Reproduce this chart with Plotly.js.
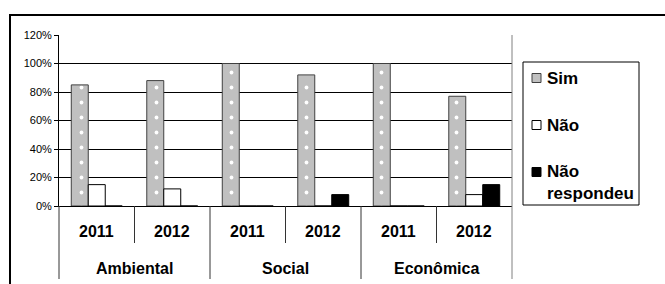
<!DOCTYPE html>
<html><head><meta charset="utf-8">
<script src="https://cdn.plot.ly/plotly-3.0.1.min.js"></script>
<style>
html,body{margin:0;padding:0;background:#fff;overflow:hidden}
#frame{position:absolute;left:9px;top:14px;width:700px;height:300px;border-top:2px solid #000;border-left:2px solid #000;box-sizing:border-box}
#chart{position:absolute;left:0;top:0;width:665px;height:284px}
</style></head><body><div id="frame"></div><div id="chart"></div>
<script>
// ---- data ----
const groups = ['Ambiental','Ambiental','Social','Social','Econômica','Econômica'];
const years = ['2011','2012','2011','2012','2011','2012'];
const groupLabels = ['Ambiental','Social','Econômica'];
const seriesNames = ['Sim','Não','Não<br>respondeu'];
const sim = [0.85, 0.88, 1.00, 0.92, 1.00, 0.77];
const nao = [0.15, 0.12, 0, 0, 0, 0.08];
const naoResp = [0, 0, 0, 0.08, 0, 0.15];
const yTickVals = [0, 0.2, 0.4, 0.6, 0.8, 1.0, 1.2];
const yTickText = ['0%','20%','40%','60%','80%','100%','120%'];

// ---- geometry helpers (plot area pixels) ----
const W = 665, H = 284, L = 59, R = 153, T = 35, B = 78;
const pw = W - L - R, ph = H - T - B;
const px2x = p => (p - L) / pw;
const px2y = p => (H - B - p) / ph;
const FONT = 'Liberation Sans, Arial, sans-serif';

const x = [groups, years];
const traces = [
  {type:'bar', name:seriesNames[0], x:x, y:sim,
   marker:{color:'#c0c0c0', line:{color:'#404040', width:1},
           pattern:{shape:'.', fgcolor:'#ffffff', bgcolor:'#c0c0c0', size:15, solidity:0.05}}},
  {type:'bar', name:seriesNames[1], x:x, y:nao,
   marker:{color:'#ffffff', line:{color:'#000000', width:1}}},
  {type:'bar', name:seriesNames[2], x:x, y:naoResp,
   marker:{color:'#000000', line:{color:'#000000', width:1}}}
];

const nCat = years.length;
const shapes = [];
const annotations = [];
// short separators between years
for (let i = 1; i < nCat; i += 2) {
  shapes.push({type:'line', xref:'paper', yref:'paper', x0:i/nCat, x1:i/nCat, y0:0, y1:px2y(243), line:{color:'#333', width:1}});
}
// long group dividers
for (let i = 0; i <= nCat; i += 2) {
  shapes.push({type:'line', xref:'paper', yref:'paper', x0:i/nCat, x1:i/nCat, y0:(i===nCat?1:0), y1:px2y(279), line:{color:(i===nCat?'#808080':'#333'), width:1}});
}
// category labels
years.forEach((yr, i) => {
  annotations.push({xref:'paper', yref:'paper', x:(i+0.5)/nCat, y:px2y(232), xanchor:'center', yanchor:'middle', showarrow:false,
    text:'<b>'+yr+'</b>', font:{family:FONT, size:16, color:'#000'}});
});
groupLabels.forEach((g, k) => {
  annotations.push({xref:'paper', yref:'paper', x:(2*k+1)/nCat, y:px2y(268), xanchor:'center', yanchor:'middle', showarrow:false,
    text:'<b>'+g+'</b>', font:{family:FONT, size:16, color:'#000'}});
});

// custom legend
shapes.push({type:'rect', xref:'paper', yref:'paper', x0:px2x(523), x1:px2x(639), y0:px2y(205), y1:px2y(62), line:{color:'#000', width:1}, fillcolor:'#fff', layer:'below'});
const legItems = [
  {cy:78, ty:78, fill:'#c0c0c0', line:'#404040'},
  {cy:125, ty:125, fill:'#ffffff', line:'#000000'},
  {cy:172, ty:182, fill:'#000000', line:'#000000'}
];
legItems.forEach((it, k) => {
  shapes.push({type:'rect', xref:'paper', yref:'paper', x0:px2x(532), x1:px2x(541), y0:px2y(it.cy+4.5), y1:px2y(it.cy-4.5), line:{color:it.line, width:1}, fillcolor:it.fill});
  annotations.push({xref:'paper', yref:'paper', x:px2x(545), y:px2y(it.ty), xanchor:'left', yanchor:'middle', align:'left', showarrow:false,
    text:'<b>'+seriesNames[k]+'</b>', font:{family:FONT, size:17, color:'#000'}});
});

const layout = {
  width:W, height:H, margin:{l:L, r:R, t:T, b:B, pad:0},
  paper_bgcolor:'rgba(0,0,0,0)', plot_bgcolor:'rgba(0,0,0,0)',
  barmode:'group', bargap:0.325, bargroupgap:0,
  showlegend:false,
  font:{family:FONT, color:'#000'},
  xaxis:{type:'multicategory', showline:true, linecolor:'#000', linewidth:1, ticks:'', showdividers:false,
         showticklabels:false, fixedrange:true},
  yaxis:{range:[0,1.2], tickvals:yTickVals, ticktext:yTickText, ticks:'outside', ticklen:4, tickcolor:'#000',
         showline:true, linecolor:'#000', linewidth:1, showgrid:true, gridcolor:'#000', gridwidth:1,
         zeroline:false, tickfont:{family:FONT, size:11, color:'#000'}, fixedrange:true},
  shapes:shapes, annotations:annotations
};
Plotly.newPlot('chart', traces, layout, {displayModeBar:false, staticPlot:true});
</script></body></html>
